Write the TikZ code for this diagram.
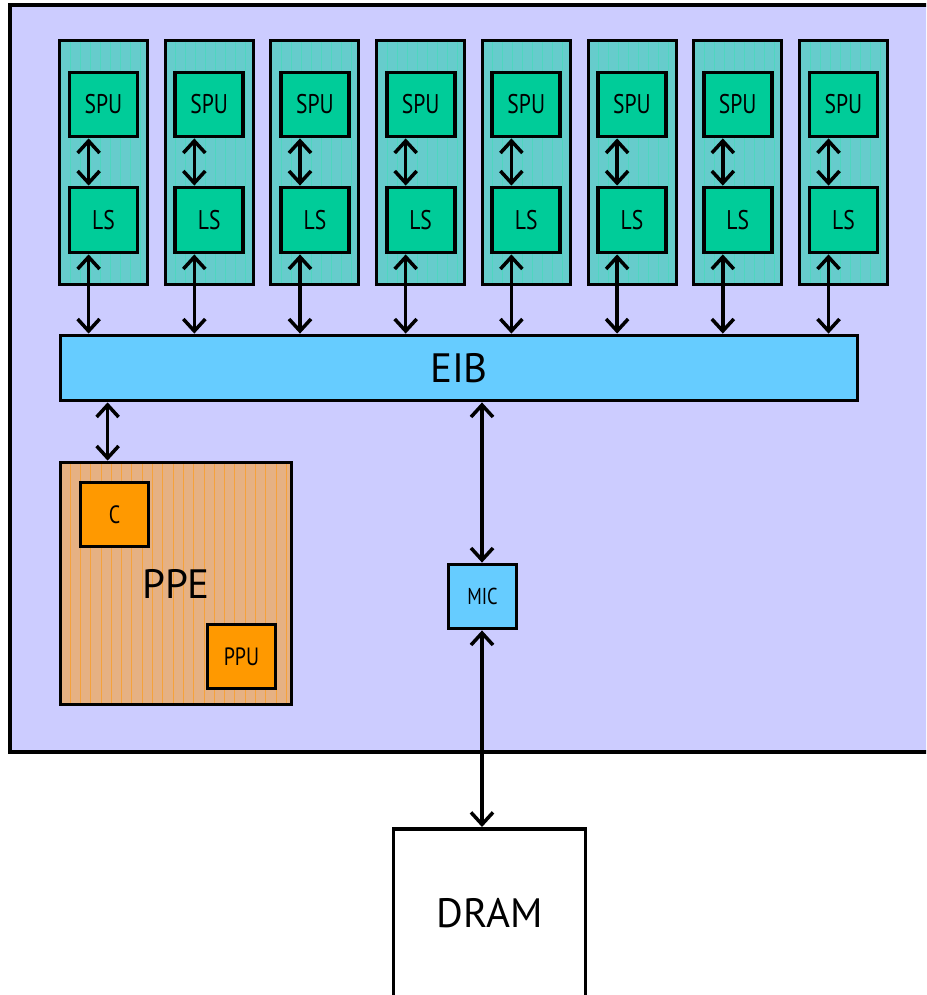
\documentclass[tikz,border=0pt]{standalone}
\usepackage{fontspec}
\setmainfont{PT Sans}
\newfontfamily\narrowsf[FakeStretch=0.8]{PT Sans}
\usepackage{xcolor}
\usetikzlibrary{arrows.meta,positioning}
\definecolor{chipbg}{HTML}{CCCCFF}
\definecolor{colteal}{HTML}{66CCCC}
\definecolor{colline}{HTML}{4FD6C0}
\definecolor{spugreen}{HTML}{00CC99}
\definecolor{busblue}{HTML}{66CCFF}
\definecolor{ppetan}{HTML}{E6B183}
\definecolor{ppeline}{HTML}{F5A23C}
\definecolor{ppuorange}{HTML}{FF9900}

\begin{document}
\begin{tikzpicture}[
  x=1pt,y=-1pt,
  blk/.style={draw,line width=3.8pt,inner sep=0pt,align=center},
  chip/.style={blk,line width=3.2pt,fill=chipbg,minimum width=950pt,minimum height=747pt},
  spe/.style={blk,line width=3pt,fill=colteal,minimum width=88pt,minimum height=244pt},
  unit/.style={blk,fill=spugreen,minimum width=68pt,minimum height=64pt,font=\narrowsf\fontsize{27}{30}\selectfont},
  bus/.style={blk,fill=busblue,minimum width=797pt,minimum height=65pt,font=\fontsize{41}{45}\selectfont},
  ppebox/.style={blk,fill=ppetan,minimum width=231pt,minimum height=242pt},
  core/.style={blk,fill=ppuorange,minimum width=68pt,minimum height=64pt,font=\narrowsf\fontsize{25}{28}\selectfont},
  mem/.style={blk,fill=white,minimum width=192pt,minimum height=168pt,font=\fontsize{41}{45}\selectfont},
  stripe/.style={line width=0.8pt},
  arr/.style={<->,>={Straight Barb[length=12pt,width=22pt]},line width=3.5pt}
]
\useasboundingbox (0,0) rectangle (926,995);
\clip (0,0) rectangle (926,995);

\node[chip] (chip) at (485,378.5) {};

\foreach \i [evaluate=\i as \xo using 59+105.7*\i] in {0,...,7}{
  \node[spe] (col\i) at (\xo+44.5,162.5) {};
  \foreach \k in {1,...,8}
    \draw[stripe,colline] (\xo+1+10*\k,42) -- (\xo+1+10*\k,283);
  \node[unit] (spu\i) at (\xo+44.5,104.5) {SPU};
  \node[unit,minimum height=65pt] (ls\i) at (\xo+44.5,220) {LS};
}

\node[bus] (eib) at (459,368) {EIB};

\node[ppebox] (ppe) at (176,583.5) {};
\foreach \k in {0,...,21}
  \draw[stripe,ppeline] (70+10.3*\k,464) -- (70+10.3*\k,703);
\node[font=\fontsize{41}{45}\selectfont] (ppelabel) at (ppe.center) {PPE};
\node[core] (cache) at (114.5,514.5) {C};
\node[core] (ppu) at (241.5,656.5) {PPU};

\node[unit,fill=busblue,font=\narrowsf\fontsize{23}{26}\selectfont] (mic) at (482.5,596.5) {MIC};
\node[mem,anchor=north] (dram) at (489.5,827) {DRAM};

\foreach \i in {0,...,7}{
  \draw[arr] ([xshift=21pt]spu\i.south west) -- ([xshift=21pt]ls\i.north west);
  \draw[arr] ([xshift=21pt]ls\i.south west) -- ([xshift=21pt]ls\i.south west |- eib.north);
}
\draw[arr] ([xshift=49pt]ppe.north west |- eib.south) -- ([xshift=49pt]ppe.north west);
\draw[arr] ([xshift=-0.5pt]mic.north |- eib.south) -- ([xshift=-0.5pt]mic.north);
\draw[arr] ([xshift=-0.5pt]mic.south) -- ([xshift=-0.5pt]mic.south |- dram.north);
\end{tikzpicture}
\end{document}
